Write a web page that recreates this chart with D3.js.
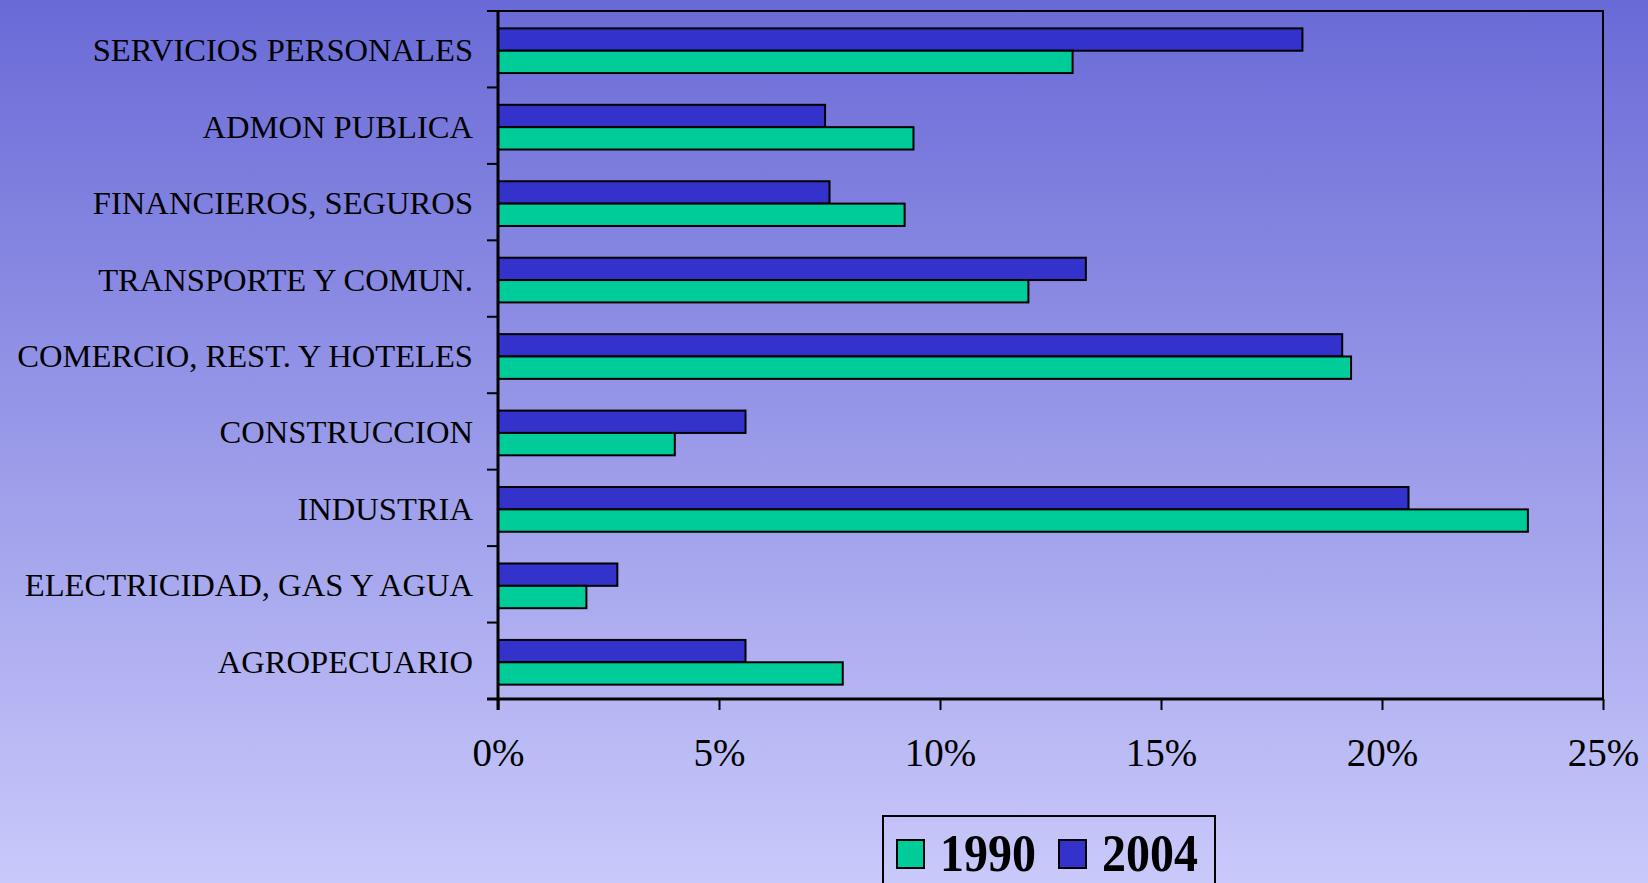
<!DOCTYPE html>
<html>
<head>
<meta charset="utf-8">
<script src="https://cdn.jsdelivr.net/npm/d3@7"></script>
<style>
    html, body { margin: 0; padding: 0; overflow: hidden; }
    #chart { width: 1648px; height: 883px; }
    text { font-family: "Liberation Serif", "Times New Roman", serif; }
</style>
</head>
<body>
<div id="chart"></div>
<script>
// sectors, top to bottom
var categories = [
    "SERVICIOS PERSONALES",
    "ADMON PUBLICA",
    "FINANCIEROS, SEGUROS",
    "TRANSPORTE Y COMUN.",
    "COMERCIO, REST. Y HOTELES",
    "CONSTRUCCION",
    "INDUSTRIA",
    "ELECTRICIDAD, GAS Y AGUA",
    "AGROPECUARIO"
];
var series = ["2004", "1990"];
var values1990 = [13.0, 9.4, 9.2, 12.0, 19.3, 4.0, 23.3, 2.0, 7.8];
var values2004 = [18.2, 7.4, 7.5, 13.3, 19.1, 5.6, 20.6, 2.7, 5.6];
var xTicks = [0, 5, 10, 15, 20, 25];
var legendKeys = ["1990", "2004"];

function barChart({ id } = {}) {
    var div = document.getElementById(id);
    var divWidth = parseInt(window.getComputedStyle(div).getPropertyValue('width'));
    var divHeight = parseInt(window.getComputedStyle(div).getPropertyValue('height'));
    var padding = { left: 498, right: 45, top: 11, bottom: 184 };

    var plotWidth = divWidth - padding.left - padding.right;
    var plotHeight = divHeight - padding.top - padding.bottom;

    var colors = { "1990": "#00CC99", "2004": "#3333CC" };

    var dataset = categories.map(function (c, i) {
        return { cat: c, "1990": values1990[i], "2004": values2004[i] };
    });

    var svg = d3.select("#" + id)
        .append("svg")
        .attr("width", divWidth)
        .attr("height", divHeight);

    // background gradient
    var grad = svg.append("defs").append("linearGradient")
        .attr("id", "bg")
        .attr("x1", 0).attr("y1", 0).attr("x2", 0).attr("y2", 1);
    grad.append("stop").attr("offset", "0%").attr("stop-color", "#6A6AD7");
    grad.append("stop").attr("offset", "100%").attr("stop-color", "#C9C9FB");
    svg.append("rect")
        .attr("width", divWidth)
        .attr("height", divHeight)
        .attr("fill", "url(#bg)");

    var x = d3.scaleLinear()
        .domain([0, 25])
        .range([0, plotWidth]);
    var y0 = d3.scaleBand()
        .domain(categories)
        .range([0, plotHeight]);
    var y1 = d3.scaleBand()
        .domain(series)
        .range([1.5, y0.bandwidth() + 1.5])
        .paddingOuter(0.71);

    var g = svg.append("g")
        .attr("transform", "translate(" + padding.left + "," + padding.top + ")");

    // plot frame (top & right)
    g.append("path")
        .attr("d", "M0,0H" + plotWidth + "V" + plotHeight)
        .attr("fill", "none")
        .attr("stroke", "#000")
        .attr("stroke-width", 2);

    g.append("g")
        .selectAll("g")
        .data(dataset)
        .join("g")
        .attr("transform", d => "translate(0," + y0(d.cat) + ")")
        .selectAll("rect")
        .data(d => series.map(s => ({ key: s, value: d[s] })))
        .join("rect")
        .attr("x", 0)
        .attr("y", d => y1(d.key))
        .attr("width", d => x(d.value))
        .attr("height", y1.bandwidth())
        .attr("fill", d => colors[d.key])
        .attr("stroke", "#000")
        .attr("stroke-width", 2);

    // category axis, ticks sit on the band edges
    var yAxis = g.append("g");
    yAxis.append("line")
        .attr("x1", 0).attr("x2", 0)
        .attr("y1", 0).attr("y2", plotHeight + 11)
        .attr("stroke", "#000").attr("stroke-width", 3);
    yAxis.selectAll(".tk")
        .data(categories.concat(["end"]))
        .join("line")
        .attr("x1", -11).attr("x2", 0)
        .attr("y1", (d, i) => i < categories.length ? y0(d) : plotHeight)
        .attr("y2", (d, i) => i < categories.length ? y0(d) : plotHeight)
        .attr("stroke", "#000").attr("stroke-width", 2);
    yAxis.selectAll("text")
        .data(categories)
        .join("text")
        .attr("x", -25)
        .attr("y", d => y0(d) + y0.bandwidth() / 2 + 12)
        .attr("text-anchor", "end")
        .attr("font-size", 32.6)
        .attr("fill", "#000")
        .text(d => d);

    var x_axis = d3.axisBottom(x)
        .tickValues(xTicks)
        .tickSize(11)
        .tickPadding(28)
        .tickFormat(d => d + "%");
    var xg = g.append("g")
        .attr("transform", "translate(0," + plotHeight + ")")
        .call(x_axis);
    xg.select(".domain").attr("stroke-width", 3).attr("d", "M-11,0H" + plotWidth);
    xg.selectAll(".tick line").attr("stroke-width", 2);
    xg.selectAll(".tick text")
        .attr("font-family", "Liberation Serif, Times New Roman, serif")
        .attr("font-size", 39)
        .attr("fill", "#000");

    // legend
    var legend = svg.append("g")
        .attr("transform", "translate(883,816)");
    legend.append("rect")
        .attr("width", 332)
        .attr("height", 90)
        .attr("fill", "none")
        .attr("stroke", "#000")
        .attr("stroke-width", 2);
    var item = legend.selectAll(".item")
        .data(legendKeys)
        .join("g")
        .attr("transform", (d, i) => "translate(" + (14 + i * 162) + ",0)");
    item.append("rect")
        .attr("y", 24)
        .attr("width", 27)
        .attr("height", 28)
        .attr("fill", d => colors[d])
        .attr("stroke", "#000")
        .attr("stroke-width", 2);
    item.append("text")
        .attr("x", 43)
        .attr("y", 55)
        .attr("font-size", 52)
        .attr("font-weight", "bold")
        .attr("textLength", 96)
        .attr("lengthAdjust", "spacingAndGlyphs")
        .attr("fill", "#000")
        .text(d => d);

    return svg;
}

barChart({ id: "chart" });
</script>
</body>
</html>
